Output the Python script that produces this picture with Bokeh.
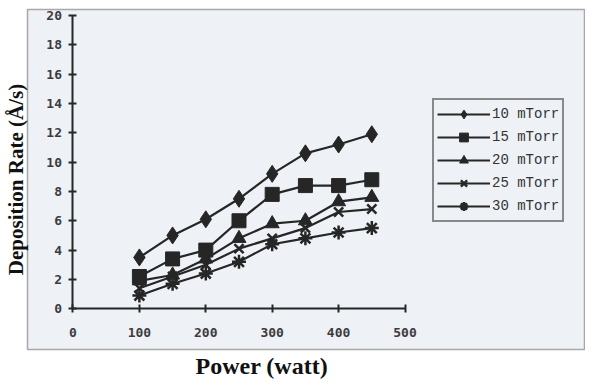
from bokeh.plotting import figure
from bokeh.models import (Range1d, LinearAxis, FixedTicker, Legend, LegendItem, Title)
from bokeh.embed import file_html
from bokeh.resources import INLINE

# ---- data ----
power = [100, 150, 200, 250, 300, 350, 400, 450]
rate_10 = [3.5, 5.0, 6.1, 7.5, 9.2, 10.6, 11.2, 11.9]
rate_15 = [2.2, 3.4, 4.0, 6.0, 7.8, 8.4, 8.4, 8.8]
rate_20 = [1.9, 2.3, 3.4, 4.8, 5.8, 6.0, 7.3, 7.6]
rate_25 = [1.4, 2.2, 3.0, 4.1, 4.8, 5.5, 6.6, 6.8]
rate_30 = [0.9, 1.7, 2.4, 3.2, 4.4, 4.8, 5.2, 5.5]
series_names = ["10 mTorr", "15 mTorr", "20 mTorr", "25 mTorr", "30 mTorr"]
x_ticks = [0, 100, 200, 300, 400, 500]
y_ticks = [0, 2, 4, 6, 8, 10, 12, 14, 16, 18, 20]

ink = "#262626"
tick_col = "#3c3c3c"

p = figure(width=585, height=379, output_backend="svg", toolbar_location=None,
           x_axis_location=None, y_axis_location=None,
           x_range=Range1d(-68.5, 771.8), y_range=Range1d(-2.78, 20.41),
           min_border_left=0, min_border_right=0, min_border_top=9, min_border_bottom=0)
p.background_fill_color = "#eef1f5"
p.border_fill_color = "white"
p.outline_line_color = "#a8a8a8"
p.outline_line_width = 1.5
p.xgrid.visible = False
p.ygrid.visible = False

# in-frame axes crossing at the origin
xax = LinearAxis(fixed_location=0, ticker=FixedTicker(ticks=x_ticks), bounds=(0, 500))
yax = LinearAxis(fixed_location=0, ticker=FixedTicker(ticks=y_ticks), bounds=(0, 20))
for ax in (xax, yax):
    ax.axis_line_color = ink
    ax.axis_line_width = 2
    ax.major_tick_line_color = ink
    ax.major_tick_line_width = 2
    ax.major_tick_in = 4
    ax.major_tick_out = 4
    ax.minor_tick_line_color = None
    ax.major_label_text_font = "DejaVu Sans Mono"
    ax.major_label_text_font_style = "bold"
    ax.major_label_text_font_size = "13px"
    ax.major_label_text_color = tick_col
xax.major_label_standoff = 15
yax.major_label_standoff = 7
p.add_layout(xax, "below")
p.add_layout(yax, "left")

# y title: label-only axis outside the frame
yt = LinearAxis(ticker=FixedTicker(ticks=[]), axis_label="Deposition Rate (Å/s)")
yt.axis_line_color = None
yt.major_tick_line_color = None
yt.minor_tick_line_color = None
yt.major_tick_out = 0
yt.major_label_standoff = 0
yt.axis_label_text_font = "Liberation Serif"
yt.axis_label_text_font_style = "bold"
yt.axis_label_text_font_size = "21px"
yt.axis_label_text_color = "#111111"
yt.axis_label_standoff = 0
p.add_layout(yt, "left")

# x title, offset to the left as in the original
xt = Title(text="Power (watt)", align="left", offset=168, standoff=2,
           vertical_align="bottom",
           text_font="Liberation Serif", text_font_style="bold",
           text_font_size="24px", text_color="#111111")
p.add_layout(xt, "below")

all_rates = [rate_10, rate_15, rate_20, rate_25, rate_30]
markers = ["diamond", "square", "triangle", "x", "asterisk"]
sizes = [17, 14, 14, 13, 14]
items = []
for name, ys, mk, sz in zip(series_names, all_rates, markers, sizes):
    ln = p.line(power, ys, line_color=ink, line_width=2.2)
    sc = p.scatter(power, ys, marker=mk, size=sz, fill_color=ink, line_color=ink,
                   line_width=2.5 if mk in ("x", "asterisk") else 1)
    items.append(LegendItem(label=name, renderers=[ln, sc]))

legend = Legend(items=items, location=(405, 127))
legend.border_line_color = "#222222"
legend.border_line_width = 2
legend.background_fill_color = "#eef1f5"
legend.background_fill_alpha = 1
legend.label_text_font = "Liberation Mono"
legend.label_text_font_size = "14px"
legend.label_text_color = "#333333"
legend.glyph_width = 53
legend.glyph_height = 22
legend.label_standoff = 2
legend.spacing = 1
legend.padding = 3
legend.margin = 0
legend.label_height = 18
p.add_layout(legend, "center")

open("out.html", "w").write(file_html(p, INLINE))
